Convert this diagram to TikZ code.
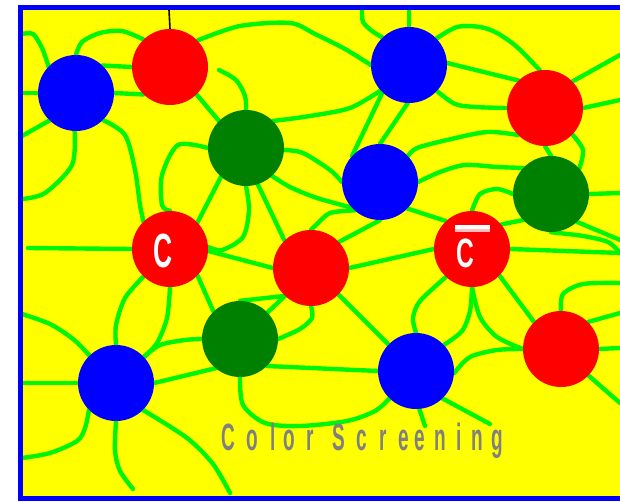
\documentclass[tikz,border=0pt]{standalone}
\usepackage{fontspec}
\setmainfont{Liberation Sans}
\definecolor{fblue}{RGB}{0,0,255}
\definecolor{fred}{RGB}{255,0,0}
\definecolor{fgreen}{RGB}{0,128,0}
\definecolor{lgreen}{RGB}{0,245,0}
\definecolor{fyel}{RGB}{255,255,0}
\definecolor{tgray}{RGB}{128,128,128}
\definecolor{barpink}{RGB}{255,190,190}
\pgfdeclarelayer{bg}
\pgfdeclarelayer{lines}
\pgfsetlayers{bg,lines,main}
\newcommand{\lsp}[2]{\makebox[#1pt][l]{\scalebox{0.5}[1]{#2}}}
\begin{document}
\begin{tikzpicture}[x=1pt,y=-1pt,
  ball/.style={circle,minimum size=76pt,inner sep=0pt,draw=none},
  bb/.style={ball,fill=fblue},
  rb/.style={ball,fill=fred},
  gb/.style={ball,fill=fgreen},
  gl/.style={draw=lgreen,line width=4.4pt,line cap=round,line join=round},
  clabel/.style={text=white,inner sep=0pt},
]
\useasboundingbox (0,0) rectangle (620,502);
\begin{pgfonlayer}{bg}
\fill[fyel] (20.8,7.8) rectangle (640,498.5);
\end{pgfonlayer}

% balls
\node[bb] (b1) at (76,93) {};
\node[rb] (r1) at (170,67) {};
\node[gb] (g1) at (246,148) {};
\node[bb] (b2) at (409,65) {};
\node[rb] (r2) at (545,108) {};
\node[bb] (b3) at (380,182) {};
\node[gb] (g2) at (551,194) {};
\node[rb] (rc) at (170,249) {};
\node[rb] (rm) at (311,268) {};
\node[rb] (rcb) at (472,249) {};
\node[gb] (g3) at (240,339) {};
\node[bb] (b4) at (116,383) {};
\node[bb] (b5) at (416,371) {};
\node[rb] (r3) at (561,349) {};

% free ends
\coordinate (k0) at (169,10);
\coordinate (e1) at (22,34);
\coordinate (e2) at (22,93);
\coordinate (e3) at (22,136);
\coordinate (e4) at (22,199);
\coordinate (e11) at (219,70);
\coordinate (e19) at (409,10);
\coordinate (e20) at (362,10);
\coordinate (e26) at (620,55);
\coordinate (e27) at (620,100);
\coordinate (e33) at (620,193);
\coordinate (e35) at (620,240);
\coordinate (e37) at (620,253);
\coordinate (e43) at (28,248);
\coordinate (e50) at (22,314);
\coordinate (e51) at (22,383);
\coordinate (e52) at (22,458);
\coordinate (e53) at (133,489);
\coordinate (e54) at (230,493);
\coordinate (e65) at (620,283);
\coordinate (e66) at (620,313);
\coordinate (e67) at (620,348);
\coordinate (e68) at (620,403);
\coordinate (e69) at (425,426);
\coordinate (e70) at (490,424);

\begin{pgfonlayer}{lines}
\draw[black,line width=1.6pt] (k0) -- (r1.90);
\draw[gl] plot[smooth] coordinates {(e1) (33,34) (42,48) (b1.136)};
\draw[gl] (e2) -- (b1.180);
\draw[gl] (e3) -- (b1.226);
\draw[gl] plot[smooth] coordinates {(b1.268) (72,165) (45,193) (e4)};
\draw[gl] plot[smooth] coordinates {(b1.90) (82,42) (100,33) (122,31) (r1.134)};
\draw[gl] (b1.46) -- (r1.180);
\draw[gl] (b1.0) -- (r1.226);
\draw[gl] plot[smooth] coordinates {(b1.315) (125,135) (135,170) (140,205) (rc.134)};
\draw[gl] plot[smooth] coordinates {(r1.44) (240,26) (290,23) (315,34) (345,49) (b2.180)};
\draw[gl] (r1.314) -- (g1.135);
\draw[gl] plot[smooth] coordinates {(e11) (236,80) (245,96) (g1.90)};
\draw[gl] plot[smooth] coordinates {(g1.45) (310,116) (350,108) (b2.222)};
\draw[gl] plot[smooth] coordinates {(g1.357) (303,153) (330,170) (b3.180)};
\draw[gl] plot[smooth] coordinates {(g1.180) (178,145) (162,175) (162,205) (rc.90)};
\draw[gl] (g1.229) -- (rc.44);
\draw[gl] plot[smooth] coordinates {(g1.270) (249,210) (243,237) (222,250) (rc.3)};
\draw[gl] plot[smooth] coordinates {(g1.313) (290,187) (317,198) (b3.222)};
\draw[gl] (g1.288) -- (rm.134);
\draw[gl] (e19) -- (b2.90);
\draw[gl] plot[smooth] coordinates {(e20) (363,22) (372,31) (b2.134)};
\draw[gl] plot[smooth] coordinates {(b2.44) (457,27) (480,27) (497,33) (517,47) (r2.98)};
\draw[gl] (b2.3) -- (r2.134);
\draw[gl] plot[smooth] coordinates {(b2.317) (455,104) (475,107) (r2.180)};
\draw[gl] (b2.226) -- (b3.137);
\draw[gl] (b2.268) -- (b3.90);
\draw[gl] (r2.44) -- (e26);
\draw[gl] (r2.0) -- (e27);
\draw[gl] plot[smooth] coordinates {(r2.225) (487,132) (447,140) (417,148) (b3.43)};
\draw[gl] (r2.270) -- (g2.90);
\draw[gl] plot[smooth] coordinates {(r2.316) (583,150) (g2.42)};
\draw[gl] plot[smooth] coordinates {(b3.0) (440,172) (465,165) (497,167) (g2.137)};
\draw[gl] plot[smooth] coordinates {(g2.180) (497,189) (480,194) (rcb.90)};
\draw[gl] (g2.0) -- (e33);
\draw[gl] (g2.223) -- (rcb.40);
\draw[gl] (g2.313) -- (e35);
\draw[gl] plot[smooth] coordinates {(g2.270) (583,236) (608,242) (e37)};
\draw[gl] (rcb.0) -- (e37);
\draw[gl] plot[smooth] coordinates {(b3.228) (330,213) (316,225) (rm.90)};
\draw[gl] (b3.270) -- (rm.43);
\draw[gl] (b3.316) -- (rcb.133);
\draw[gl] (rm.0) -- (rcb.180);
\draw[gl] (rc.357) -- (rm.180);
\draw[gl] (e43) -- (rc.180);
\draw[gl] plot[smooth] coordinates {(rc.226) (125,298) (116,325) (b4.90)};
\draw[gl] plot[smooth] coordinates {(rc.270) (167,318) (157,343) (b4.43)};
\draw[gl] (rc.316) -- (g3.134);
\draw[gl] (rm.227) -- (g3.90);
\draw[gl] (rm.227) -- (g3.44);
\draw[gl] plot[smooth] coordinates {(rm.270) (312,318) (300,329) (g3.0)};
\draw[gl] plot[smooth] coordinates {(e50) (50,324) (73,339) (b4.134)};
\draw[gl] (e51) -- (b4.180);
\draw[gl] plot[smooth] coordinates {(b4.225) (85,428) (77,441) (50,453) (e52)};
\draw[gl] plot[smooth] coordinates {(b4.270) (115,451) (120,471) (e53)};
\draw[gl] plot[smooth] coordinates {(b4.315) (187,438) (213,464) (e54)};
\draw[gl] plot[smooth] coordinates {(b4.43) (160,345) (185,340) (g3.180)};
\draw[gl] (b4.0) -- (g3.230);
\draw[gl] (g3.315) -- (b5.180);
\draw[gl] plot[smooth] coordinates {(g3.270) (243,405) (265,423) (300,426) (347,421) (375,411) (b5.226)};
\draw[gl] (rm.316) -- (b5.136);
\draw[gl] plot[smooth] coordinates {(rcb.227) (420,301) (413,318) (b5.90)};
\draw[gl] plot[smooth] coordinates {(rcb.270) (470,311) (462,331) (b5.43)};
\draw[gl] plot[smooth] coordinates {(rcb.270) (480,317) (497,337) (r3.180)};
\draw[gl] (rcb.316) -- (r3.135);
\draw[gl] plot[smooth] coordinates {(b5.357) (470,357) (497,350) (r3.180)};
\draw[gl] plot[smooth] coordinates {(r3.90) (563,294) (583,284) (e65)};
\draw[gl] (r3.45) -- (e66);
\draw[gl] (r3.0) -- (e67);
\draw[gl] (r3.316) -- (e68);
\draw[gl] (b5.275) -- (e69);
\draw[gl] (b5.314) -- (e70);
\end{pgfonlayer}

% labels
\node[clabel,font=\fontsize{48}{48}\selectfont\bfseries] (cl) at (163.5,251) {\scalebox{0.55}[1]{C}};
\node[clabel,font=\fontsize{41}{41}\selectfont\bfseries] (cbl) at (465.5,253) {\scalebox{0.6}[1]{C}};
\fill[white] (455,225) rectangle (490,229.5);
\fill[barpink] (455,229.5) rectangle (490,232.5);

\node[anchor=base west,inner sep=0pt,text=tgray,font=\fontsize{38}{38}\selectfont\bfseries] (title) at (221.5,450)
  {\lsp{25}{C}\lsp{24}{o}\lsp{13}{l}\lsp{23}{o}\lsp{26}{r}\lsp{24}{S}\lsp{23}{c}\lsp{19}{r}\lsp{16}{e}\lsp{20}{e}\lsp{22}{n}\lsp{15}{i}\lsp{20}{n}\scalebox{0.5}[1]{g}};

% frame
\draw[fblue,line width=5pt] (640,7.8) -- (20.8,7.8) -- (20.8,498.5) -- (640,498.5);
\end{tikzpicture}
\end{document}
